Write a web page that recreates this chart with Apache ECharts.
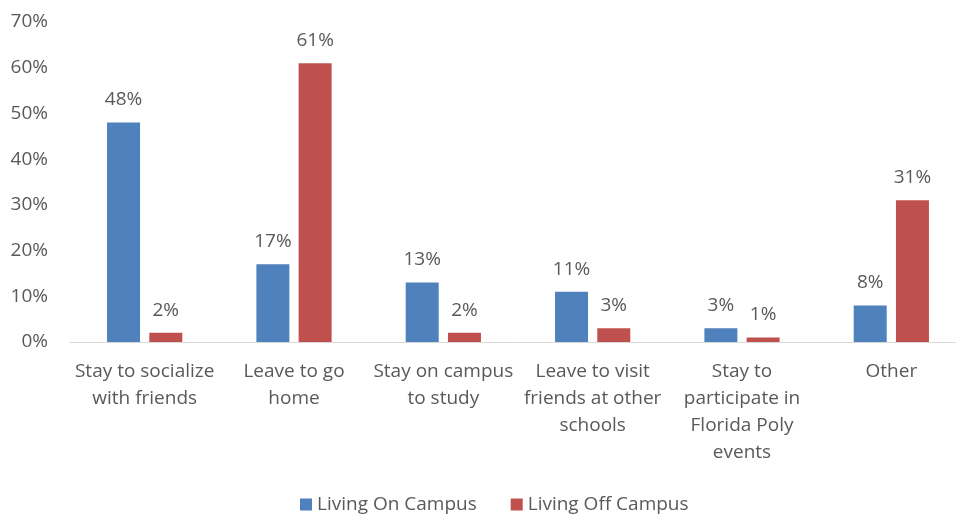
<!DOCTYPE html>
<html><head><meta charset="utf-8">
<script src="https://cdn.jsdelivr.net/npm/echarts@6/dist/echarts.min.js"></script>
<style>html,body{margin:0;padding:0;background:#fff}#c{width:956px;height:514px}</style>
</head><body><div id="c"></div>
<script>
const categories = ["Stay to socialize\nwith friends", "Leave to go\nhome", "Stay on campus\nto study", "Leave to visit\nfriends at other\nschools", "Stay to\nparticipate in\nFlorida Poly\nevents", "Other"];
const onCampus = [48, 17, 13, 11, 3, 8];
const offCampus = [2, 61, 2, 3, 1, 31];
const yTicks = [0, 10, 20, 30, 40, 50, 60, 70];
const FONT = "'Open Sans', sans-serif";
const TXT = '#595959';
const FS = 19;
const chart = echarts.init(document.getElementById('c'));
chart.setOption({
  animation: false,
  grid: {left: 70, width: 896, top: 22, bottom: 172, containLabel: false, outerBoundsMode: 'none'},
  legend: {
    bottom: -5, left: 295, itemWidth: 12, itemHeight: 12, itemGap: 34,
    icon: 'rect',
    textStyle: {fontFamily: FONT, fontSize: FS, color: TXT},
    data: ['Living On Campus', 'Living Off Campus']
  },
  xAxis: {
    type: 'category', data: categories,
    axisLine: {lineStyle: {color: '#d9d9d9', width: 1}},
    axisTick: {show: false},
    axisLabel: {fontFamily: FONT, fontSize: FS, color: TXT, lineHeight: 27, margin: 16, interval: 0}
  },
  yAxis: {
    type: 'value', min: yTicks[0], max: yTicks[yTicks.length - 1], interval: 10,
    splitLine: {show: false}, axisLine: {show: false}, axisTick: {show: false},
    axisLabel: {fontFamily: FONT, fontSize: FS, color: TXT, margin: 22, formatter: v => v + '%'}
  },
  series: [
    {name: 'Living On Campus', type: 'bar', data: onCampus, barWidth: 33, barGap: '28%',
     itemStyle: {color: '#4F81BD'},
     label: {show: true, position: 'top', distance: 13, fontFamily: FONT, fontSize: FS, color: TXT, formatter: p => p.value + '%'}},
    {name: 'Living Off Campus', type: 'bar', data: offCampus, barWidth: 33,
     itemStyle: {color: '#C0504D'},
     label: {show: true, position: 'top', distance: 13, fontFamily: FONT, fontSize: FS, color: TXT, formatter: p => p.value + '%'}}
  ]
});
</script></body></html>
